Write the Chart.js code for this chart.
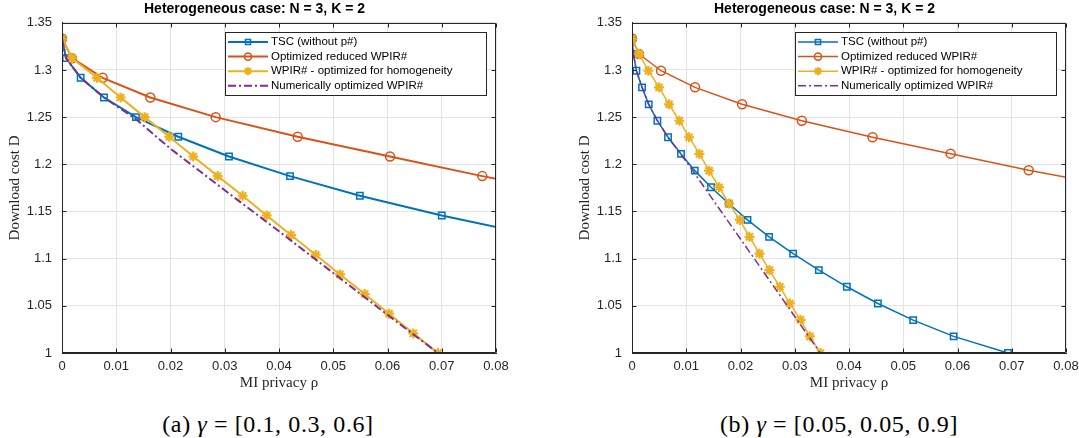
<!DOCTYPE html>
<html>
<head>
<meta charset="utf-8">
<script src="https://cdn.jsdelivr.net/npm/chart.js@4.4.0/dist/chart.umd.min.js"></script>
<style>
  body { margin: 0; background: #fff; width: 1079px; height: 438px; position: relative; overflow: hidden; }
  .panel { position: absolute; top: 0; width: 509px; height: 395px; }
  .caption { position: absolute; top: 411px; font: 24px 'Liberation Serif', serif; letter-spacing: 0.6px; line-height: 26px; color: #000; white-space: nowrap; transform: translateX(-50%); }
</style>
</head>
<body>
<div class="panel" style="left:0"><canvas id="chartA"></canvas></div>
<div class="panel" style="left:570px"><canvas id="chartB"></canvas></div>
<div class="caption" style="left:268px">(a) <i>γ</i> = [0.1, 0.3, 0.6]</div>
<div class="caption" style="left:839px">(b) <i>γ</i> = [0.05, 0.05, 0.9]</div>
<script>
// Series names (same for both panels)
const seriesNames = ['TSC (without p#)', 'Optimized reduced WPIR#', 'WPIR# - optimized for homogeneity', 'Numerically optimized WPIR#'];

// (a) gamma = [0.1, 0.3, 0.6]
const tscRhoA = [0, 0.00074, 0.00344, 0.00774, 0.01364, 0.02144, 0.03078, 0.04203, 0.0549, 0.0700, 0.087];
const tscDA = [1.3333, 1.3125, 1.2917, 1.2708, 1.25, 1.2292, 1.2083, 1.1875, 1.1667, 1.1458, 1.125];
const redRhoA = [0, 0.00184, 0.0075, 0.01628, 0.02833, 0.04344, 0.06046, 0.07747, 0.0965];
const redDA = [1.3333, 1.3125, 1.2917, 1.2708, 1.25, 1.2292, 1.2083, 1.1875, 1.1667];
const homRhoA = [0, 0.00184, 0.00645, 0.01081, 0.01524, 0.01978, 0.0242, 0.0287, 0.0333, 0.03773, 0.04221, 0.04676, 0.05124, 0.0558, 0.06028, 0.06476, 0.0693];
const homDA = [1.3333, 1.3125, 1.2917, 1.2708, 1.25, 1.2292, 1.2083, 1.1875, 1.1667, 1.1458, 1.125, 1.1042, 1.0833, 1.0625, 1.0417, 1.0208, 1.0];
const numRhoA = [0, 0.00074, 0.00344, 0.00774, 0.0137, 0.02, 0.03, 0.04, 0.05, 0.06, 0.0693];
const numDA = [1.3333, 1.3125, 1.2917, 1.2708, 1.2475, 1.2165, 1.1725, 1.129, 1.0848, 1.0405, 1.0];

// (b) gamma = [0.05, 0.05, 0.9]
const tscRhoB = [0, 0.00026, 0.00081, 0.00185, 0.00308, 0.00468, 0.00664, 0.00904, 0.01157, 0.01457, 0.01784, 0.02129, 0.02527, 0.0297, 0.03444, 0.0396, 0.04532, 0.05183, 0.05929, 0.0693];
const tscDB = [1.3333, 1.3169, 1.2992, 1.2816, 1.2636, 1.2462, 1.2287, 1.211, 1.1933, 1.1757, 1.1584, 1.1411, 1.1231, 1.1054, 1.0879, 1.0702, 1.0525, 1.0349, 1.0176, 1.0];
const redRhoB = [0, 0.00129, 0.00535, 0.01162, 0.02029, 0.0313, 0.04434, 0.05873, 0.07312, 0.0899];
const redDB = [1.3333, 1.3169, 1.2992, 1.2816, 1.2636, 1.2462, 1.2287, 1.2113, 1.1937, 1.1754];
const homRhoB = [0, 0.00129, 0.00302, 0.00498, 0.00683, 0.00874, 0.01051, 0.01243, 0.0142, 0.01605, 0.01789, 0.01987, 0.02166, 0.0235, 0.02534, 0.02725, 0.02909, 0.03106, 0.03278, 0.03475];
const homDB = [1.3333, 1.3169, 1.2992, 1.2816, 1.2636, 1.2462, 1.2287, 1.211, 1.1933, 1.1757, 1.1584, 1.1411, 1.1231, 1.1054, 1.0879, 1.0702, 1.0525, 1.0352, 1.0176, 1.0];
const numRhoB = [0, 0.00026, 0.00081, 0.00185, 0.00308, 0.00468, 0.00664, 0.00895, 0.0112, 0.01494, 0.02, 0.025, 0.03, 0.0347];
const numDB = [1.3333, 1.3169, 1.2992, 1.2816, 1.2636, 1.2462, 1.2287, 1.211, 1.1933, 1.1623, 1.1208, 1.0798, 1.0387, 1.0];

// MATLAB default colours
const colors = ['#0072BD', '#D95319', '#EDB120', '#7E2F8E'];
const axisColor = '#262626';

Chart.defaults.font.family = "'Liberation Sans', Arial, sans-serif";
Chart.defaults.color = axisColor;

function pts(xs, ys) {
  return xs.map((x, i) => ({ x: x, y: ys[i] }));
}

function makeDatasets(series, lw, markR) {
  const styles = ['rect', 'circle', 'star', false];
  return series.map((s, i) => ({
    label: seriesNames[i],
    data: pts(s[0], s[1]),
    borderColor: colors[i],
    backgroundColor: 'rgba(0,0,0,0)',
    borderWidth: lw,
    borderDash: i === 3 ? [8, 3, 2, 3] : [],
    pointStyle: styles[i],
    pointRadius: i === 3 ? 0 : (i === 2 ? markR + 0.5 : markR),
    pointBorderWidth: i === 2 ? 2.2 : 1.5,
    pointBackgroundColor: 'rgba(0,0,0,0)',
    pointBorderColor: colors[i],
    order: 3 - i
  }));
}

// Closed box with inward tick marks, MATLAB style
const frame = {
  id: 'frame',
  afterDatasetsDraw(chart) {
    const { ctx, chartArea: a, scales: { x, y } } = chart;
    ctx.save();
    ctx.strokeStyle = axisColor;
    ctx.lineWidth = 1;
    const L = Math.round(a.left) + 0.5, R = Math.round(a.right) - 0.5;
    const T = Math.round(a.top) + 0.5, B = Math.round(a.bottom) - 0.5;
    ctx.beginPath();
    ctx.rect(L, T, R - L, B - T);
    x.ticks.forEach(t => {
      const p = Math.round(x.getPixelForValue(t.value)) + 0.5;
      ctx.moveTo(p, B); ctx.lineTo(p, B - 4);
      ctx.moveTo(p, T); ctx.lineTo(p, T + 4);
    });
    y.ticks.forEach(t => {
      const p = Math.round(y.getPixelForValue(t.value)) + 0.5;
      ctx.moveTo(L, p); ctx.lineTo(L + 4, p);
      ctx.moveTo(R, p); ctx.lineTo(R - 4, p);
    });
    ctx.stroke();
    ctx.restore();
  }
};

// Boxed legend inside the top right corner of the plot
const boxLegend = {
  id: 'boxLegend',
  afterDraw(chart) {
    const { ctx, chartArea: a } = chart;
    const w = 261, h = 63;
    const left = Math.round(a.right - 10 - w), top = Math.round(a.top + 9);
    const drawPoint = Chart.helpers && Chart.helpers.drawPoint;
    ctx.save();
    ctx.fillStyle = '#fff';
    ctx.fillRect(left, top, w, h);
    ctx.strokeStyle = axisColor;
    ctx.lineWidth = 1;
    ctx.strokeRect(left + 0.5, top + 0.5, w, h);
    chart.data.datasets.forEach((ds, i) => {
      const yy = top + 10 + i * 14.6;
      ctx.strokeStyle = ds.borderColor;
      ctx.lineWidth = ds.borderWidth;
      ctx.setLineDash(ds.borderDash);
      ctx.beginPath();
      ctx.moveTo(left + 3, yy);
      ctx.lineTo(left + 43, yy);
      ctx.stroke();
      ctx.setLineDash([]);
      if (ds.pointRadius > 0 && drawPoint) {
        ctx.fillStyle = 'rgba(0,0,0,0)';
        ctx.lineWidth = ds.pointBorderWidth;
        drawPoint(ctx, { pointStyle: ds.pointStyle, radius: ds.pointRadius * 0.8, rotation: 0, borderWidth: ds.pointBorderWidth }, left + 23, yy);
      }
      ctx.fillStyle = '#000';
      ctx.font = "11.5px 'Liberation Sans', Arial, sans-serif";
      ctx.textBaseline = 'middle';
      ctx.fillText(ds.label, left + 46, yy);
    });
    ctx.restore();
  }
};

function makeOptions() {
  const serif = { family: "'Liberation Serif', 'Times New Roman', serif", size: 15 };
  return {
    responsive: true,
    maintainAspectRatio: false,
    animation: false,
    layout: { padding: 0 },
    plugins: {
      legend: { display: false },
      tooltip: { enabled: false },
      title: {
        display: true,
        text: 'Heterogeneous case: N = 3, K = 2',
        color: '#000',
        font: { size: 14, weight: 'bold' },
        padding: { top: 1, bottom: 5 }
      }
    },
    scales: {
      x: {
        type: 'linear',
        min: 0,
        max: 0.08,
        // fixed axis band, leave 13px right of the plot for the last label
        afterFit: s => { s.height = 42; s.paddingLeft = 0; s.paddingRight = 13; },
        ticks: { stepSize: 0.01, padding: 6, maxRotation: 0, font: { size: 13 }, callback: v => String(+v.toFixed(2)) },
        grid: { color: '#e3e3e3', drawTicks: false },
        border: { color: axisColor },
        title: { display: true, text: 'MI privacy ρ', font: serif, padding: { top: 0, bottom: 3 } }
      },
      y: {
        min: 1,
        max: 1.35,
        afterFit: s => { s.width = 62; },
        ticks: { stepSize: 0.05, padding: 10, font: { size: 13 }, callback: v => String(+v.toFixed(2)) },
        grid: { color: '#e3e3e3', drawTicks: false },
        border: { color: axisColor },
        title: { display: true, text: 'Download cost D', font: serif, padding: { top: 6, bottom: 5 } }
      }
    }
  };
}

// (a) panel
new Chart(document.getElementById('chartA'), {
  type: 'line',
  data: {
    datasets: makeDatasets([[tscRhoA, tscDA], [redRhoA, redDA], [homRhoA, homDA], [numRhoA, numDA]], 2, 4.5)
  },
  options: makeOptions(),
  plugins: [frame, boxLegend]
});

// (b) panel
new Chart(document.getElementById('chartB'), {
  type: 'line',
  data: {
    datasets: makeDatasets([[tscRhoB, tscDB], [redRhoB, redDB], [homRhoB, homDB], [numRhoB, numDB]], 1.5, 4.5)
  },
  options: makeOptions(),
  plugins: [frame, boxLegend]
});
</script>
</body>
</html>
